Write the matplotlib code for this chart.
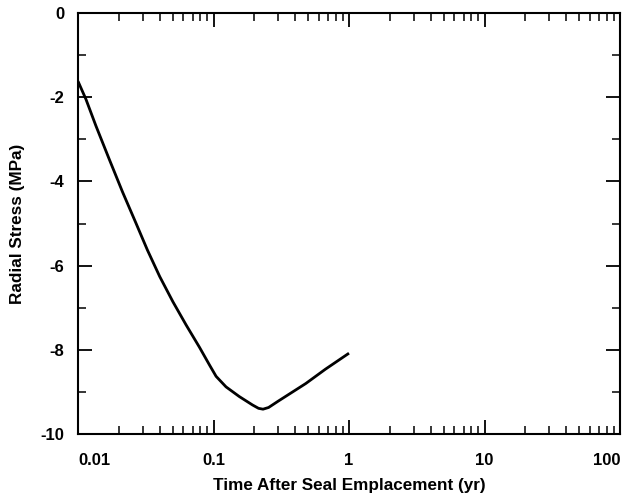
import numpy as np
import matplotlib
matplotlib.use("Agg")
import matplotlib.pyplot as plt
from matplotlib.ticker import LogLocator, MultipleLocator, NullFormatter

# values
time_yr = [0.0100, 0.01145, 0.01356, 0.01699, 0.02131, 0.02669, 0.03253,
           0.0401, 0.0502, 0.0628, 0.0788, 0.0934, 0.1045, 0.1237, 0.155,
           0.194, 0.215, 0.232, 0.255, 0.30, 0.48, 0.67, 1.0]
radial_stress = [-1.62, -2.05, -2.68, -3.47, -4.25, -4.98, -5.63,
                 -6.26, -6.86, -7.41, -7.94, -8.36, -8.63, -8.88, -9.11,
                 -9.31, -9.39, -9.41, -9.37, -9.22, -8.80, -8.46, -8.08]

x_ticks = [0.01, 0.1, 1, 10, 100]
x_tick_labels = ["0.01", "0.1", "1", "10", "100"]
y_ticks = [0, -2, -4, -6, -8, -10]

plt.rcParams['font.family'] = ['Liberation Sans', 'DejaVu Sans']
plt.rcParams['font.weight'] = 'bold'

fig = plt.figure(figsize=(6.22, 4.95), dpi=100)
ax = fig.add_axes([0.1254, 0.1232, 0.8714, 0.8505])

ax.plot(time_yr, radial_stress, color='black', lw=2.0, solid_capstyle='butt',
        solid_joinstyle='round')

ax.set_xscale('log')
ax.set_xlim(0.01, 100)
ax.set_ylim(-10, 0)

ax.xaxis.set_major_locator(LogLocator(base=10, numticks=10))
ax.xaxis.set_minor_locator(LogLocator(base=10, subs=np.arange(2, 10), numticks=20))
ax.xaxis.set_minor_formatter(NullFormatter())
ax.set_xticks(x_ticks)
ax.set_xticklabels(x_tick_labels)
labels = ax.get_xticklabels()
labels[0].set_horizontalalignment('left')
labels[-1].set_horizontalalignment('right')

ax.set_yticks(y_ticks)
ax.set_yticklabels([str(v) for v in y_ticks])
ax.yaxis.set_minor_locator(MultipleLocator(1))

for sp in ax.spines.values():
    sp.set_linewidth(1.5)

ax.tick_params(which='both', direction='in', top=True, right=True, color='black')
ax.tick_params(which='major', length=10, width=1.3, labelsize=12)
ax.tick_params(axis='x', which='major', pad=14)
ax.tick_params(axis='y', which='major', pad=10)
ax.tick_params(which='minor', length=5.5, width=1.1)

ax.set_xlabel("Time After Seal Emplacement (yr)", fontsize=12.3, fontweight='bold', labelpad=7)
ax.set_ylabel("Radial Stress (MPa)", fontsize=12.3, fontweight='bold', labelpad=11)

fig.savefig("out.png", dpi=100)
